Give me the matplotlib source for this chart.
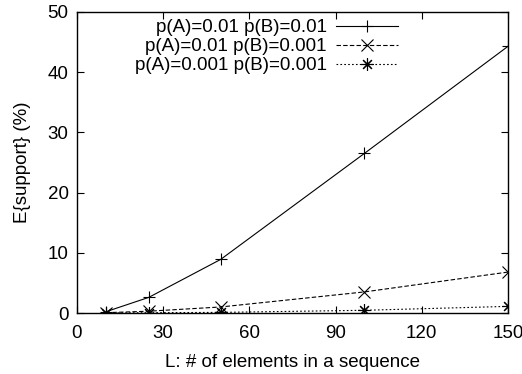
import matplotlib
matplotlib.use("Agg")
import matplotlib.pyplot as plt

plt.rcParams['font.family'] = ['Liberation Sans', 'DejaVu Sans']

# sequence length L
L = [10, 25, 50, 100, 150]

# expected support (%) for each pair of item probabilities
sup_01_01 = [0.2, 2.6, 8.9, 26.5, 44.3]
sup_01_001 = [0.05, 0.3, 1.0, 3.5, 6.8]
sup_001_001 = [0.0, 0.05, 0.1, 0.45, 1.1]

labels = ["p(A)=0.01 p(B)=0.01",
          "p(A)=0.01 p(B)=0.001",
          "p(A)=0.001 p(B)=0.001"]

fs = 13.5
fig = plt.figure(figsize=(5.22, 3.74), dpi=100)
ax = fig.add_axes([77/522, 61/374, 431/522, 301/374])

lw = 0.8
ax.plot(L, sup_01_01, color='black', lw=lw, ls='-', marker='+', ms=9,
        mew=lw, label=labels[0])
ax.plot(L, sup_01_001, color='black', lw=lw, ls=(0, (4, 2)), marker='x',
        ms=8, mew=lw, label=labels[1])
ax.plot(L, sup_001_001, color='black', lw=lw, ls=(0, (1.5, 2)),
        marker=(8, 2, 0), ms=9, mew=lw, label=labels[2])

ax.set_xlim(0, 150)
ax.set_ylim(0, 50)
ax.set_xticks(range(0, 151, 30))
ax.set_yticks(range(0, 51, 10))
ax.tick_params(direction='in', top=True, right=True, length=5,
               width=0.8, labelsize=fs)
ax.tick_params(axis='x', pad=8.5)
ax.tick_params(axis='y', pad=6)
for s in ax.spines.values():
    s.set_linewidth(1.0)

ax.set_xlabel("L: # of elements in a sequence", fontsize=fs, labelpad=9)
ax.set_ylabel("E{support} (%)", fontsize=fs, labelpad=12)

ax.legend(loc='upper right', bbox_to_anchor=(398/522, 1 - 19/374),
          bbox_transform=fig.transFigure, frameon=False, markerfirst=False,
          fontsize=fs, handlelength=3.3, handletextpad=0.5,
          labelspacing=0.1, borderpad=0, borderaxespad=0)

fig.savefig("out.png", dpi=100)
